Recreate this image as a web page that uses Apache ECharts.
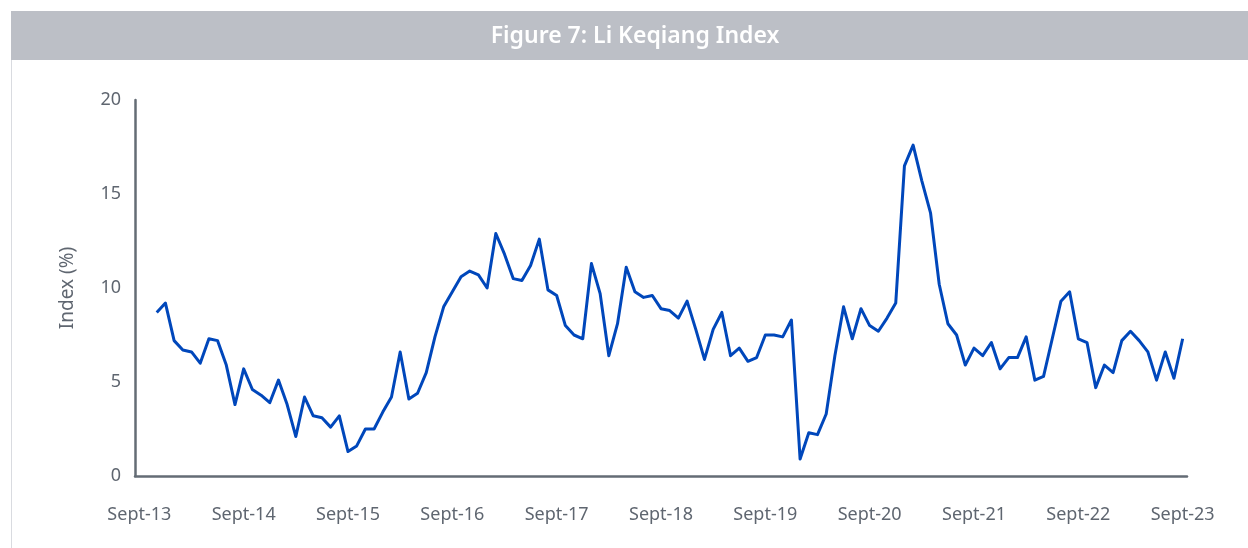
<!DOCTYPE html>
<html>
<head>
<meta charset="utf-8">
<script src="https://cdn.jsdelivr.net/npm/echarts@6/dist/echarts.min.js"></script>
<style>
html,body{margin:0;padding:0;background:#fff;}
#chart{width:1248px;height:548px;}
</style>
</head>
<body>
<div id="chart"></div>
<script>
// Monthly categories Sept-13 .. Sept-23 (121 months)
const startYear = 2013, startMonth = 9, monthCount = 121;
const monthNames = ['Jan','Feb','Mar','Apr','May','Jun','Jul','Aug','Sept','Oct','Nov','Dec'];
const categories = [];
for (let i = 0; i < monthCount; i++) {
  const m = (startMonth - 1 + i) % 12;
  const y = startYear + Math.floor((startMonth - 1 + i) / 12);
  categories.push(monthNames[m] + '-' + String(y % 100).padStart(2, '0'));
}
// Tick labels shown on the x axis
const tickLabels = ['Sept-13','Sept-14','Sept-15','Sept-16','Sept-17','Sept-18','Sept-19','Sept-20','Sept-21','Sept-22','Sept-23'];
const yTicks = [0, 5, 10, 15, 20];

// Li Keqiang Index values, Nov-13 .. Sept-23
const liKeqiangIndex = [
  null, null,
  8.7, 9.2, 7.2, 6.7, 6.6, 6.0, 7.3, 7.2, 5.9, 3.8,
  5.7, 4.6, 4.3, 3.9, 5.1, 3.8, 2.1, 4.2, 3.2, 3.1,
  2.6, 3.2, 1.3, 1.6, 2.5, 2.5, 3.4, 4.2, 6.6, 4.1,
  4.4, 5.5, 7.4, 9.0, 9.8, 10.6, 10.9, 10.7, 10.0, 12.9,
  11.8, 10.5, 10.4, 11.2, 12.6, 9.9, 9.6, 8.0, 7.5, 7.3,
  11.3, 9.7, 6.4, 8.1, 11.1, 9.8, 9.5, 9.6, 8.9, 8.8,
  8.4, 9.3, 7.8, 6.2, 7.8, 8.7, 6.4, 6.8, 6.1, 6.3,
  7.5, 7.5, 7.4, 8.3, 0.9, 2.3, 2.2, 3.3, 6.4, 9.0,
  7.3, 8.9, 8.0, 7.7, 8.4, 9.2, 16.5, 17.6, 15.7, 14.0,
  10.2, 8.1, 7.5, 5.9, 6.8, 6.4, 7.1, 5.7, 6.3, 6.3,
  7.4, 5.1, 5.3, 7.3, 9.3, 9.8, 7.3, 7.1, 4.7, 5.9,
  5.5, 7.2, 7.7, 7.2, 6.6, 5.1, 6.6, 5.2, 7.3
];

const chart = echarts.init(document.getElementById('chart'), null, {renderer: 'canvas'});
const textFont = '"Source Sans Pro", "Noto Sans", sans-serif';
chart.setOption({
  animation: false,
  backgroundColor: '#ffffff',
  graphic: [
    { type: 'rect', z: -1, shape: { x: 11, y: 11, width: 1237, height: 49 }, style: { fill: '#bcbfc6' } },
    { type: 'line', z: -1, shape: { x1: 11.5, y1: 60, x2: 11.5, y2: 548 }, style: { stroke: '#d9dbe0', lineWidth: 1 } },
    { type: 'text', x: 635, y: 36, style: { text: 'Figure 7: Li Keqiang Index', fill: '#ffffff', font: '600 23px "Noto Sans", sans-serif', align: 'center', verticalAlign: 'middle' } }
  ],
  grid: { left: 135, right: 61, top: 100, bottom: 72, containLabel: false },
  xAxis: {
    type: 'category',
    data: categories,
    boundaryGap: true,
    axisLine: { show: true, lineStyle: { color: '#646c75', width: 2.5 } },
    axisTick: { show: false },
    splitLine: { show: false },
    axisLabel: {
      interval: function (idx) { return idx % 12 === 0; },
      formatter: function (val, idx) { return tickLabels[idx / 12] || ''; },
      color: '#5f6670',
      fontSize: 18,
      fontFamily: textFont,
      margin: 30
    }
  },
  yAxis: {
    type: 'value',
    min: yTicks[0],
    max: yTicks[yTicks.length - 1],
    interval: 5,
    name: 'Index (%)',
    nameLocation: 'middle',
    nameGap: 58,
    nameRotate: 90,
    nameTextStyle: { color: '#5f6670', fontSize: 19, fontFamily: textFont },
    axisLine: { show: true, lineStyle: { color: '#646c75', width: 2.5 } },
    axisTick: { show: false },
    splitLine: { show: false },
    axisLabel: { color: '#5f6670', fontSize: 18, fontFamily: textFont, margin: 14 }
  },
  series: [{
    type: 'line',
    data: liKeqiangIndex,
    showSymbol: false,
    symbol: 'none',
    connectNulls: false,
    lineStyle: { color: '#0047bb', width: 3, join: 'round' },
    itemStyle: { color: '#0047bb' }
  }]
});
</script>
</body>
</html>
